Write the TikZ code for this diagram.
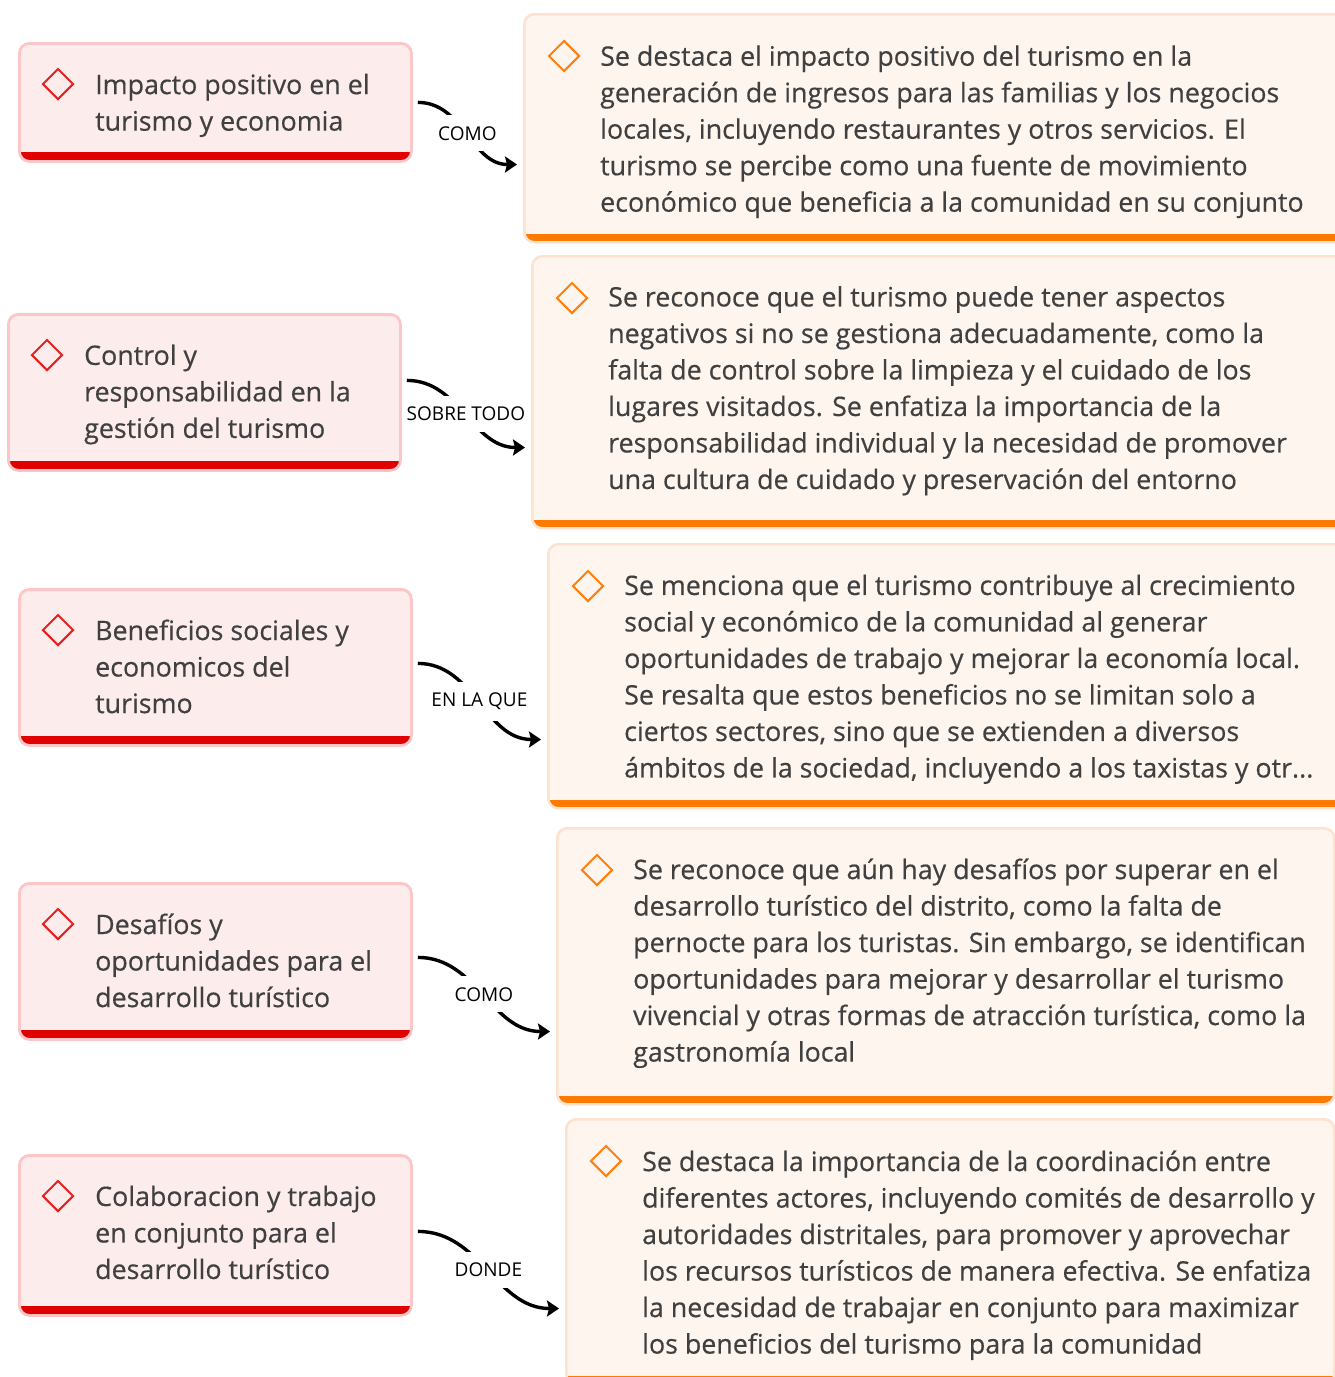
\documentclass[tikz,border=0pt]{standalone}
\usepackage{fontspec}
\setmainfont{Open Sans}
\newfontfamily\semifont{Open Sans}[FakeBold=0.45]
\usetikzlibrary{shapes.geometric,arrows.meta}
\definecolor{temafill}{HTML}{FDECEC}
\definecolor{temaline}{HTML}{FCC6C8}
\definecolor{temabar}{HTML}{E00000}
\definecolor{temamark}{HTML}{E52222}
\definecolor{detfill}{HTML}{FEF5EF}
\definecolor{detline}{HTML}{FDE3CF}
\definecolor{detbar}{HTML}{FF7A00}
\definecolor{detmark}{HTML}{FF7F0F}
\definecolor{txtgray}{HTML}{404040}

\begin{document}
\begin{tikzpicture}[x=1pt,y=-1pt,
  tema/.style={draw=temaline,fill=temafill,line width=2.8pt,rounded corners=10pt,anchor=north west,inner sep=0pt,minimum width=392,
    path picture={\fill[temabar,sharp corners] (path picture bounding box.south west) rectangle ([yshift=9pt]path picture bounding box.south east);}},
  detalle/.style={draw=detline,fill=detfill,line width=2.5pt,rounded corners=10pt,anchor=north west,inner sep=0pt,
    path picture={\fill[detbar,sharp corners] (path picture bounding box.south west) rectangle ([yshift=8pt]path picture bounding box.south east);}},
  marca/.style={diamond,draw=#1,line width=2pt,minimum size=31,inner sep=0pt},
  texto/.style={anchor=west,align=left,inner sep=0pt,text=txtgray,font=\semifont\fontsize{26.8}{36.5}\selectfont},
  enlace/.style={line width=3.4pt,-{Stealth[length=12pt,width=16pt,inset=2pt]},out=0,in=180},
  rotulo/.style={fill=white,inner xsep=2pt,inner ysep=11pt,text=black,font=\fontsize{19}{22}\selectfont}]
\useasboundingbox (0,0) rectangle (1335,1377);

\node[tema,minimum height=118] (l1) at (18,42) {};
\node[tema,minimum height=156] (l2) at (7,313) {};
\node[tema,minimum height=156] (l3) at (18,588) {};
\node[tema,minimum height=156] (l4) at (18,882) {};
\node[tema,minimum height=160] (l5) at (18,1154) {};

\node[detalle,minimum width=830,minimum height=228] (r1) at (523,13) {};
\node[detalle,minimum width=830,minimum height=272] (r2) at (531,255) {};
\node[detalle,minimum width=830,minimum height=264] (r3) at (547,543) {};
\node[detalle,minimum width=777,minimum height=276] (r4) at (556,827) {};
\node[detalle,minimum width=768,minimum height=265] (r5) at (565,1118) {};

\node[marca=temamark] (ml1) at ([shift={(40,42)}]l1.north west) {};
\node[marca=temamark] (ml2) at ([shift={(40,42)}]l2.north west) {};
\node[marca=temamark] (ml3) at ([shift={(40,42)}]l3.north west) {};
\node[marca=temamark] (ml4) at ([shift={(40,42)}]l4.north west) {};
\node[marca=temamark] (ml5) at ([shift={(40,42)}]l5.north west) {};
\node[marca=detmark] (mr1) at ([shift={(41,43)}]r1.north west) {};
\node[marca=detmark] (mr2) at ([shift={(41,43)}]r2.north west) {};
\node[marca=detmark] (mr3) at ([shift={(41,43)}]r3.north west) {};
\node[marca=detmark] (mr4) at ([shift={(41,43)}]r4.north west) {};
\node[marca=detmark] (mr5) at ([shift={(41,43)}]r5.north west) {};

\node[texto] (tl1) at ([shift={(77,3)}]l1.west) {Impacto positivo en el\\turismo y economia};
\node[texto] (tl2) at ([shift={(77,2)}]l2.west) {Control y\\responsabilidad en la\\gestión del turismo};
\node[texto] (tl3) at ([shift={(77,-1)}]l3.west) {Beneficios sociales y\\economicos del\\turismo};
\node[texto] (tl4) at ([shift={(77,-1)}]l4.west) {Desafíos y\\oportunidades para el\\desarrollo turístico};
\node[texto] (tl5) at ([shift={(77,-3)}]l5.west) {Colaboracion y trabajo\\en conjunto para el\\desarrollo turístico};

\node[texto] (tr1) at ([shift={(77,3.5)}]r1.west) {Se destaca el impacto positivo del turismo en la\\generación de ingresos para las familias y los negocios\\locales, incluyendo restaurantes y otros servicios. El\\turismo se percibe como una fuente de movimiento\\económico que beneficia a la comunidad en su conjunto};
\node[texto] (tr2) at ([shift={(77,-1.5)}]r2.west) {Se reconoce que el turismo puede tener aspectos\\negativos si no se gestiona adecuadamente, como la\\falta de control sobre la limpieza y el cuidado de los\\lugares visitados. Se enfatiza la importancia de la\\responsabilidad individual y la necesidad de promover\\una cultura de cuidado y preservación del entorno};
\node[texto] (tr3) at ([shift={(77,3)}]r3.west) {Se menciona que el turismo contribuye al crecimiento\\social y económico de la comunidad al generar\\oportunidades de trabajo y mejorar la economía local.\\Se resalta que estos beneficios no se limitan solo a\\ciertos sectores, sino que se extienden a diversos\\ámbitos de la sociedad, incluyendo a los taxistas y otr...};
\node[texto] (tr4) at ([shift={(77,-3)}]r4.west) {Se reconoce que aún hay desafíos por superar en el\\desarrollo turístico del distrito, como la falta de\\pernocte para los turistas. Sin embargo, se identifican\\oportunidades para mejorar y desarrollar el turismo\\vivencial y otras formas de atracción turística, como la\\gastronomía local};
\node[texto] (tr5) at ([shift={(77,3.5)}]r5.west) {Se destaca la importancia de la coordinación entre\\diferentes actores, incluyendo comités de desarrollo y\\autoridades distritales, para promover y aprovechar\\los recursos turísticos de manera efectiva. Se enfatiza\\la necesidad de trabajar en conjunto para maximizar\\los beneficios del turismo para la comunidad};

\draw[enlace] ([xshift=5]l1.east) to node[rotulo] {COMO} ([shift={(-6,-79)}]r1.south west);
\draw[enlace] ([shift={(5,-12)}]l2.east) to node[rotulo] {SOBRE TODO} ([shift={(-6,-82)}]r2.south west);
\draw[enlace] ([shift={(5,-4)}]l3.east) to node[rotulo] {EN LA QUE} ([shift={(-6,-70)}]r3.south west);
\draw[enlace] ([shift={(5,-4)}]l4.east) to node[rotulo] {COMO} ([shift={(-6,-74)}]r4.south west);
\draw[enlace] ([shift={(5,-4)}]l5.east) to node[rotulo] {DONDE} ([shift={(-6,-77)}]r5.south west);
\end{tikzpicture}
\end{document}
